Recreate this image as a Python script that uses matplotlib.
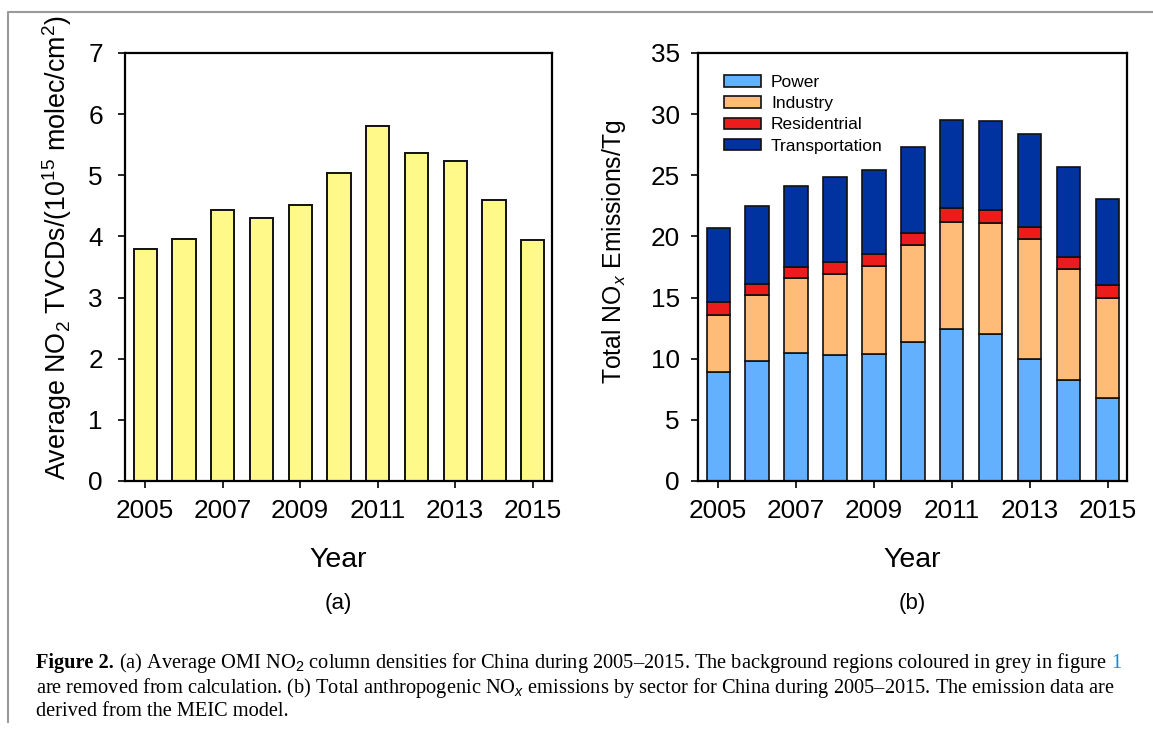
import numpy as np
import matplotlib
matplotlib.use("Agg")
import matplotlib.pyplot as plt
from matplotlib.lines import Line2D

plt.rcParams['font.family'] = 'Liberation Sans'
plt.rcParams['mathtext.fontset'] = 'custom'
plt.rcParams['mathtext.rm'] = 'Liberation Sans'
plt.rcParams['mathtext.it'] = 'Liberation Sans:italic'

# data
years = np.arange(2005, 2016)
no2_vcd = [3.80, 3.96, 4.43, 4.30, 4.52, 5.04, 5.81, 5.37, 5.24, 4.60, 3.94]

power = [8.9, 9.8, 10.5, 10.3, 10.4, 11.4, 12.4, 12.0, 10.0, 8.3, 6.8]
industry = [4.7, 5.4, 6.1, 6.6, 7.2, 7.9, 8.8, 9.1, 9.8, 9.0, 8.2]
residential = [1.0, 0.9, 0.9, 1.0, 1.0, 1.0, 1.1, 1.1, 1.0, 1.0, 1.0]
transport = [6.1, 6.4, 6.6, 7.0, 6.8, 7.0, 7.2, 7.2, 7.6, 7.4, 7.1]
sectors = ['Power', 'Industry', 'Residentrial', 'Transportation']
sector_colors = ['#62B0FF', '#FFBB78', '#EC1C1C', '#0033A0']

W, H = 1153, 736
fig = plt.figure(figsize=(W / 100, H / 100), dpi=100)

def px_axes(x0, y0, x1, y1):
    # pixel box (top-left origin) -> figure axes
    return fig.add_axes([x0 / W, 1 - y1 / H, (x1 - x0) / W, (y1 - y0) / H])

ax1 = px_axes(125, 53, 552, 481)
ax2 = px_axes(698, 53, 1127, 481)

ax1.bar(years, no2_vcd, width=0.6, color='#FFF98A', edgecolor='#111111', linewidth=1.4)
ax1.set_ylim(0, 7)

bottom = np.zeros(len(years))
for vals, name, col in zip([power, industry, residential, transport], sectors, sector_colors):
    ax2.bar(years, vals, width=0.6, bottom=bottom, color=col, edgecolor='#111111',
            linewidth=1.2, label=name)
    bottom += np.array(vals)
ax2.set_ylim(0, 35)

for ax in (ax1, ax2):
    ax.set_xlim(2004.48, 2015.5)
    ax.set_xticks(years[::2])
    for s in ax.spines.values():
        s.set_linewidth(1.6)
    ax.tick_params(direction='out', length=5, width=1.2, labelsize=18.8, top=False, right=False)
    ax.tick_params(axis='x', pad=8)
ax1.tick_params(axis='y', pad=11)
ax2.tick_params(axis='y', pad=8)

leg = ax2.legend(loc='upper left', bbox_to_anchor=(0.045, 0.965), frameon=False, fontsize=12.5,
                 handlelength=2.1, handleheight=0.65, labelspacing=0.36, handletextpad=0.6,
                 borderaxespad=0)
for p in leg.get_patches():
    p.set_linewidth(1.2)

# axis titles
fig.text(57 / W, 1 - 248 / H, r'Average NO$_2$ TVCDs/(10$^{15}$ molec/cm$^2$)', rotation=90,
         ha='center', va='center', fontsize=19.4)
fig.text(614 / W, 1 - 252 / H, r'Total NO$_x$ Emissions/Tg', rotation=90,
         ha='center', va='center', fontsize=17.8)
fig.text(338 / W, 1 - 560 / H, 'Year', ha='center', va='center', fontsize=20.5)
fig.text(912 / W, 1 - 560 / H, 'Year', ha='center', va='center', fontsize=20.5)
fig.text(338 / W, 1 - 604 / H, '(a)', ha='center', va='center', fontsize=16)
fig.text(912 / W, 1 - 604 / H, '(b)', ha='center', va='center', fontsize=16)

# page frame
fig.add_artist(Line2D([8 / W, 8 / W, 1], [1 - 722 / H, 1 - 12 / H, 1 - 12 / H],
                      transform=fig.transFigure, color='#9a9a9a', lw=1.5))

# caption
cap_fs = 14.7
serif = 'Liberation Serif'
lines = [
    (r' (a) Average OMI NO$_2$ column densities for China during 2005–2015. The background regions coloured in grey in figure', 663),
    (r'are removed from calculation. (b) Total anthropogenic NO$_x$ emissions by sector for China during 2005–2015. The emission data are', 688),
    ('derived from the MEIC model.', 712),
]
fig.canvas.draw()
r = fig.canvas.get_renderer()
t0 = fig.text(36 / W, 1 - lines[0][1] / H, 'Figure 2.', fontsize=cap_fs, fontweight='bold',
              family=serif, va='center')
bb = t0.get_window_extent(r)
t1 = fig.text(bb.x1 / W, 1 - lines[0][1] / H, lines[0][0], fontsize=cap_fs, family=serif, va='center')
bb1 = t1.get_window_extent(r)
fig.text((bb1.x1 + 5) / W, 1 - lines[0][1] / H, '1', fontsize=cap_fs, family=serif, va='center',
         color='#1a8ac9')
for txt, y in lines[1:]:
    fig.text(36 / W, 1 - y / H, txt, fontsize=cap_fs, family=serif, va='center')

fig.savefig('out.png', dpi=100)
